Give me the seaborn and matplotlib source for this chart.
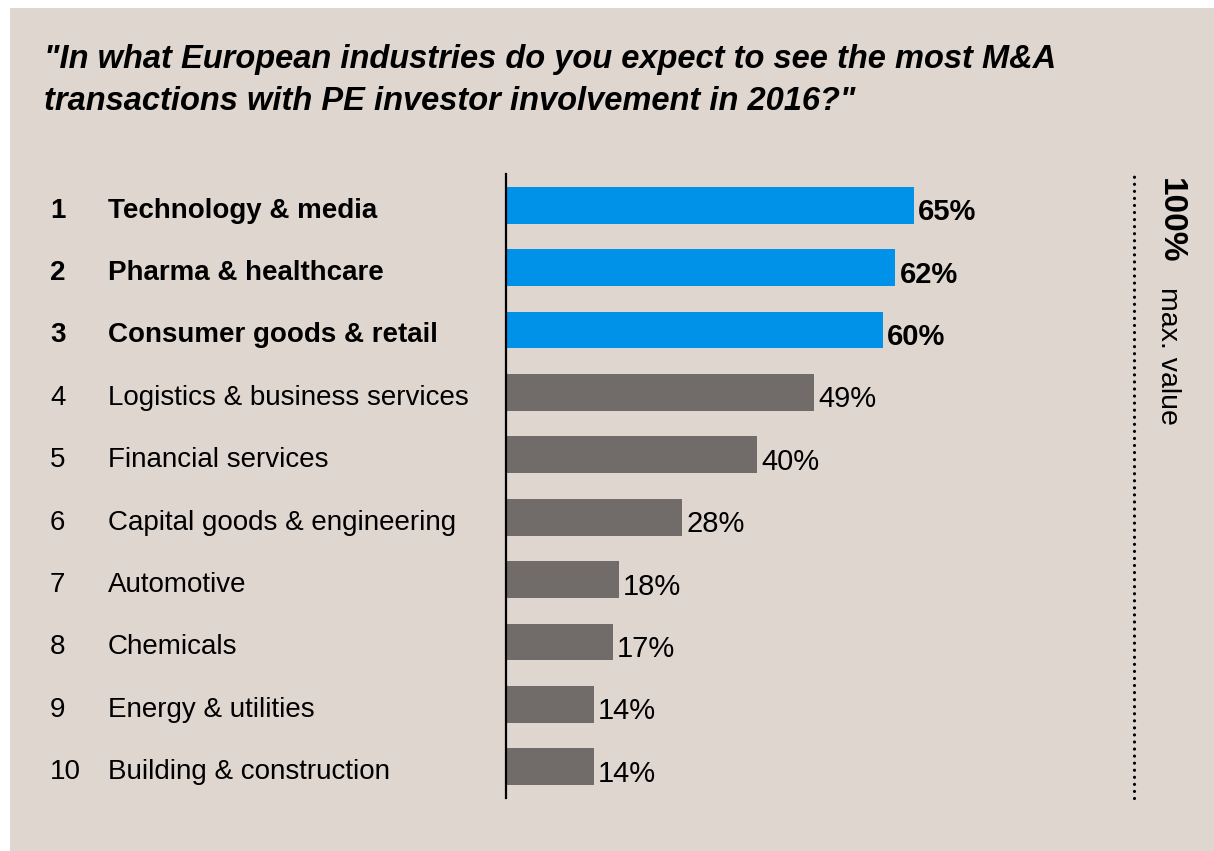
import matplotlib
matplotlib.use("Agg")
import matplotlib.pyplot as plt
import matplotlib.transforms as mtransforms
from matplotlib.patches import Rectangle
from matplotlib import font_manager
import seaborn as sns
import pandas as pd

# Survey data
ranks = ["1", "2", "3", "4", "5", "6", "7", "8", "9", "10"]
industries = [
    "Technology & media",
    "Pharma & healthcare",
    "Consumer goods & retail",
    "Logistics & business services",
    "Financial services",
    "Capital goods & engineering",
    "Automotive",
    "Chemicals",
    "Energy & utilities",
    "Building & construction",
]
shares = [65, 62, 60, 49, 40, 28, 18, 17, 14, 14]
top_n = 3

title = ('"In what European industries do you expect to see the most M&A\n'
         'transactions with PE investor involvement in 2016?"')

BG = "#dfd6d0"
BLUE = "#0091e8"
GREY = "#716c6a"

installed = {f.name for f in font_manager.fontManager.ttflist}
NARROW = "Liberation Sans Narrow" if "Liberation Sans Narrow" in installed else "Liberation Sans"
WIDE = "Liberation Sans"

sns.set_theme(style="white")
plt.rcParams["font.family"] = [NARROW, "DejaVu Sans"]

W, H = 1214, 851
fig = plt.figure(figsize=(W / 100, H / 100), dpi=100, facecolor="white")
# beige panel behind everything, leaving a thin white margin at left and top
fig.patches.append(Rectangle((10 / W, 0), 1 - 10 / W, 1 - 8 / H,
                             transform=fig.transFigure, facecolor=BG,
                             edgecolor="none", zorder=-5))

ax = fig.add_axes([506 / W, 53 / H, 628 / W, 624 / H])
ax.set_facecolor("none")

df = pd.DataFrame({"industry": industries, "share": shares,
                   "group": ["top" if i < top_n else "rest" for i in range(len(shares))]})
sns.barplot(data=df, x="share", y="industry", hue="group",
            palette={"top": BLUE, "rest": GREY}, dodge=False,
            width=0.59, legend=False, ax=ax, saturation=1, linewidth=0)

ax.set_xlim(0, 100)
ax.set_ylim(len(industries) - 0.5, -0.5)
ax.set_xlabel("")
ax.set_ylabel("")
ax.set_xticks([])
ax.set_yticks([])
for side in ["top", "right", "bottom"]:
    ax.spines[side].set_visible(False)
ax.spines["left"].set_color("black")
ax.spines["left"].set_linewidth(1.6)
ax.spines["left"].set_zorder(5)

# dotted reference line at the maximum value
ax.axvline(100, ymin=0, ymax=1.004, color="black", linewidth=2.3,
           linestyle=(0, (0.01, 2.2)), dash_capstyle="round", clip_on=False)

# value labels
for i, v in enumerate(shares):
    ax.annotate(f"{v}%", xy=(v, i + 0.24), xytext=(3, 0), textcoords="offset points",
                ha="left", va="baseline", fontsize=21, color="black",
                fontweight="bold" if i < top_n else "normal")

# rank numbers and industry names
trans = mtransforms.blended_transform_factory(fig.transFigure, ax.transData)
for i, (r, name) in enumerate(zip(ranks, industries)):
    wt = "bold" if i < top_n else "normal"
    fig.text(50 / W, i + 0.2, r, transform=trans, ha="left", va="baseline",
             fontsize=20, fontweight=wt, color="black")
    fig.text(108 / W, i + 0.2, name, transform=trans, ha="left", va="baseline",
             fontsize=20, fontweight=wt, color="black")

# title
fig.text(44 / W, 1 - 44 / H, title, ha="left", va="top", fontsize=23.5,
         fontweight="bold", fontstyle="italic", family=[WIDE, "DejaVu Sans"],
         linespacing=1.45, color="black")

# vertical note next to the reference line
fig.text(1155 / W, 1 - 178 / H, "100%", rotation=-90, ha="left", va="top",
         fontsize=24, fontweight="bold", color="black")
fig.text(1155 / W, 1 - 287 / H, "max. value", rotation=-90, ha="left", va="top",
         fontsize=20.5, color="black")

fig.savefig("out.png", dpi=100, facecolor="white")
